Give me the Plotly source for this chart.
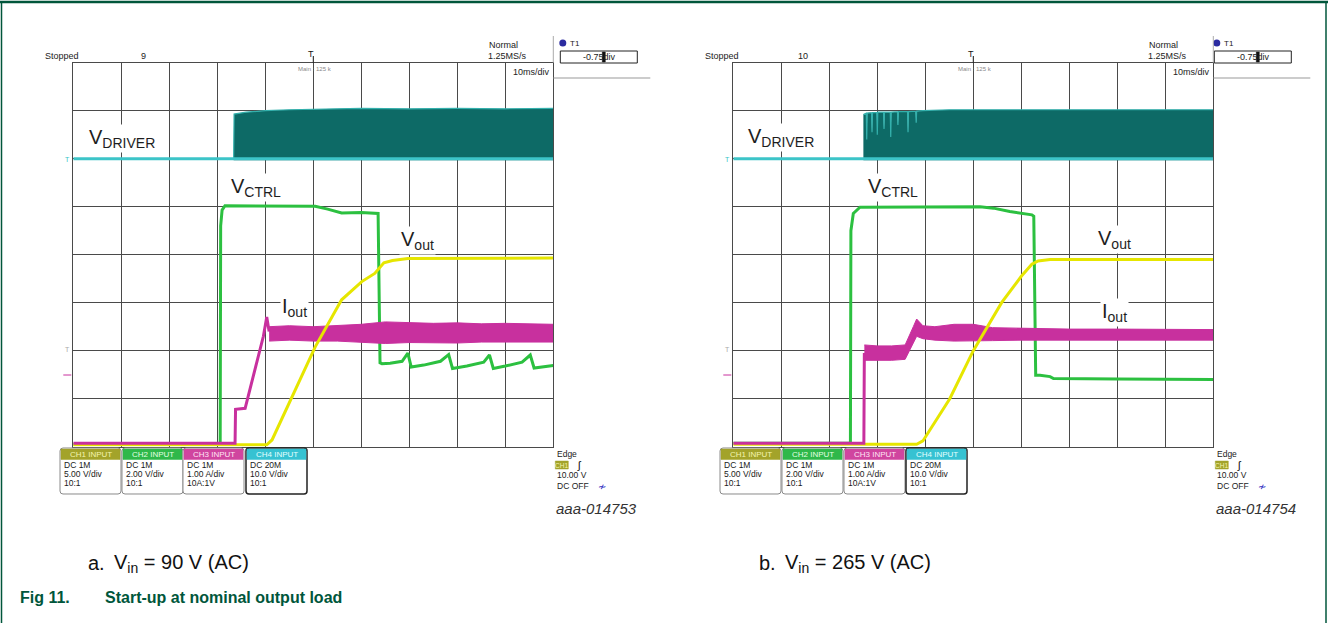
import plotly.graph_objects as go

W, H = 1328, 623

# ---------------- data: time in ms (10 ms/div), level in divisions (0..8) ----------------
# Panel a : Vin = 90 V (AC)
a_drv_base_t = [0, 100]
a_drv_base_y = [6.0, 6.0]
a_drv_t   = [33.4, 33.5, 36, 40, 45, 50, 60, 70, 80, 90, 100]
a_drv_top = [6.0, 6.93, 6.97, 7.00, 7.02, 7.03, 7.05, 7.04, 7.05, 7.04, 7.05]
a_drv_bot = [5.97, 5.97, 5.97, 5.97, 5.97, 5.97, 5.97, 5.97, 5.97, 5.97, 5.97]

a_ctrl_t = [0, 30.6, 30.7, 31.0, 31.6, 40, 50.4, 53, 55.9, 60,
            63.5, 63.9, 64.3, 66, 68.5, 69.7, 70.4, 73, 76.5, 78.2,
            79.0, 82, 85.5, 86.7, 87.5, 90, 93.5, 95.2, 96.0, 100]
a_ctrl_y = [0.05, 0.05, 4.6, 4.93, 5.02, 5.02, 5.01, 4.95, 4.87, 4.88,
            4.86, 1.75, 1.73, 1.74, 1.78, 1.95, 1.66, 1.70, 1.78, 1.92,
            1.63, 1.68, 1.76, 1.91, 1.63, 1.68, 1.76, 1.91, 1.64, 1.69]

a_iout_t = [0, 33.7, 33.8, 35.8, 39.6, 40.3, 40.8]
a_iout_y = [0.07, 0.07, 0.78, 0.80, 2.30, 2.70, 2.40]
a_band_t   = [40.8, 45, 50, 55, 60, 65, 70, 75, 80, 85, 90, 95, 100]
a_band_top = [2.50, 2.52, 2.50, 2.53, 2.55, 2.60, 2.58, 2.57, 2.58, 2.56, 2.57, 2.56, 2.55]
a_band_bot = [2.20, 2.22, 2.20, 2.20, 2.18, 2.15, 2.17, 2.17, 2.16, 2.18, 2.17, 2.18, 2.18]

a_vout_t = [0, 40.3, 41.4, 45.3, 50.4, 55.9, 60.1, 62.8, 64.7, 66.5, 69.7, 100]
a_vout_y = [0.04, 0.04, 0.14, 0.99, 2.08, 3.06, 3.44, 3.61, 3.83, 3.88, 3.92, 3.93]

# Panel b : Vin = 265 V (AC)
b_drv_base_t = [0, 100]
b_drv_base_y = [6.0, 6.0]
b_drv_t   = [27.1, 27.7, 27.8, 27.9, 28.8, 28.9, 29.0, 29.9, 30.0, 30.1,
             31.3, 31.4, 31.5, 32.7, 32.8, 32.9, 34.2, 34.3, 34.4, 36.3,
             36.4, 36.5, 38.0, 38.1, 38.2, 39.5, 45, 60, 80, 100]
b_drv_top = [6.92, 6.95, 6.40, 6.95, 6.96, 6.55, 6.96, 6.96, 6.50, 6.97,
             6.97, 6.62, 6.97, 6.97, 6.45, 6.97, 6.98, 6.70, 6.98, 6.98,
             6.55, 6.98, 6.99, 6.75, 6.99, 7.00, 7.02, 7.02, 7.03, 7.02]
b_drv_bot = [5.97, 5.97, 5.97, 5.97, 5.97, 5.97, 5.97, 5.97, 5.97, 5.97,
             5.97, 5.97, 5.97, 5.97, 5.97, 5.97, 5.97, 5.97, 5.97, 5.97,
             5.97, 5.97, 5.97, 5.97, 5.97, 5.97, 5.97, 5.97, 5.97, 5.97]

b_ctrl_t = [0, 24.4, 24.5, 25.0, 26.4, 40, 51.4, 54.2, 57.6, 62.2, 62.6, 63.0, 63.9, 66.0, 66.7, 80, 100]
b_ctrl_y = [0.07, 0.07, 4.5, 4.86, 4.99, 5.0, 5.0, 4.97, 4.90, 4.83, 4.80, 1.49, 1.49, 1.46, 1.42, 1.41, 1.40]

b_iout_t = [0, 27.2, 27.3]
b_iout_y = [0.07, 0.07, 1.95]
b_band_t   = [27.3, 30, 33, 35.8, 37.5, 38.2, 39.5, 42, 46, 50, 54, 60, 70, 80, 90, 100]
b_band_top = [2.12, 2.10, 2.10, 2.12, 2.50, 2.66, 2.52, 2.50, 2.55, 2.55, 2.48, 2.47, 2.45, 2.45, 2.45, 2.44]
b_band_bot = [1.80, 1.80, 1.80, 1.82, 2.15, 2.30, 2.25, 2.22, 2.20, 2.20, 2.21, 2.22, 2.22, 2.23, 2.22, 2.22]

b_vout_t = [0, 38.2, 39.5, 41.0, 45.1, 50.0, 55.9, 60.0, 62.2, 63.5, 66.0, 100]
b_vout_y = [0.05, 0.05, 0.12, 0.35, 1.0, 2.0, 3.0, 3.55, 3.80, 3.87, 3.90, 3.90]

# text content
channel_headers = ["CH1 INPUT", "CH2 INPUT", "CH3 INPUT", "CH4 INPUT"]
channel_lines = [["DC 1M", "5.00 V/div", "10:1"],
                 ["DC 1M", "2.00 V/div", "10:1"],
                 ["DC 1M", "1.00 A/div", "10A:1V"],
                 ["DC 20M", "10.0 V/div", "10:1"]]
acq_counts = ["9", "10"]
fig_ids = ["aaa-014753", "aaa-014754"]
sub_captions = [("a.", "V<sub>in</sub> = 90 V (AC)"), ("b.", "V<sub>in</sub> = 265 V (AC)")]
fig_caption = ("Fig 11.", "Start-up at nominal output load")

# ---------------- styles ----------------
C_CYAN = "#3cc4c8"
C_TEAL = "#0d6a66"
C_TEAL_EDGE = "#33b0ac"
C_GREEN = "#2cc040"
C_MAG = "#c8309e"
C_YEL = "#e6e600"
C_GRID = "#4a4a4a"
C_FIGGREEN = "#00563b"
HDR_COL = ["#a3a32a", "#2fb84a", "#d0459f", "#36c2d2"]
HDR_TXT = ["#f4f4b0", "#e4ffe4", "#ffe4f4", "#e4ffff"]
SMALL = "Liberation Sans Narrow, Liberation Sans, Arial"
BODY = "Liberation Sans, Arial"

Y_TOP, Y_BOT = 62.7, 446.7
PANELS = [dict(x0=73.3, x1=553.3, xa="x", ya="y"),
          dict(x0=733.3, x1=1213.3, xa="x2", ya="y2")]


def px(x):
    return x / W


def py(y):
    return 1 - y / H


fig = go.Figure()


def add_panel(p, drv_base_t, drv_base_y, drv_t, drv_top, drv_bot, ctrl_t, ctrl_y,
              iout_t, iout_y, band_t, band_top, band_bot, vout_t, vout_y):
    ax = dict(xaxis=p["xa"], yaxis=p["ya"], hoverinfo="skip", showlegend=False)
    # driver burst band
    fig.add_trace(go.Scatter(x=drv_t + drv_t[::-1], y=drv_top + drv_bot[::-1], mode="lines",
                             fill="toself", fillcolor=C_TEAL, line=dict(width=0), **ax))
    fig.add_trace(go.Scatter(x=drv_t, y=drv_top, mode="lines",
                             line=dict(color=C_TEAL_EDGE, width=1.2), **ax))
    fig.add_trace(go.Scatter(x=drv_base_t, y=drv_base_y, mode="lines",
                             line=dict(color=C_CYAN, width=3), **ax))
    # V_CTRL
    fig.add_trace(go.Scatter(x=ctrl_t, y=ctrl_y, mode="lines",
                             line=dict(color=C_GREEN, width=3), **ax))
    # Iout band
    fig.add_trace(go.Scatter(x=band_t + band_t[::-1], y=band_top + band_bot[::-1], mode="lines",
                             fill="toself", fillcolor=C_MAG, line=dict(color=C_MAG, width=1), **ax))
    # Vout
    fig.add_trace(go.Scatter(x=vout_t, y=vout_y, mode="lines",
                             line=dict(color=C_YEL, width=3), **ax))
    # Iout start
    fig.add_trace(go.Scatter(x=iout_t, y=iout_y, mode="lines",
                             line=dict(color=C_MAG, width=3), **ax))


add_panel(PANELS[0], a_drv_base_t, a_drv_base_y, a_drv_t, a_drv_top, a_drv_bot, a_ctrl_t, a_ctrl_y,
          a_iout_t, a_iout_y, a_band_t, a_band_top, a_band_bot, a_vout_t, a_vout_y)
add_panel(PANELS[1], b_drv_base_t, b_drv_base_y, b_drv_t, b_drv_top, b_drv_bot, b_ctrl_t, b_ctrl_y,
          b_iout_t, b_iout_y, b_band_t, b_band_top, b_band_bot, b_vout_t, b_vout_y)

xax = dict(range=[0, 100], dtick=10, tick0=0, showgrid=True, gridcolor=C_GRID, gridwidth=1,
           showticklabels=False, zeroline=False, showline=True, linecolor=C_GRID, linewidth=1,
           mirror=True, ticks="", fixedrange=True)
yax = dict(range=[0, 8], dtick=1, tick0=0, showgrid=True, gridcolor=C_GRID, gridwidth=1,
           showticklabels=False, zeroline=False, showline=True, linecolor=C_GRID, linewidth=1,
           mirror=True, ticks="", fixedrange=True)

fig.update_layout(
    width=W, height=H, margin=dict(l=0, r=0, t=0, b=0),
    paper_bgcolor="white", plot_bgcolor="white", showlegend=False,
    xaxis=dict(domain=[px(PANELS[0]["x0"]), px(PANELS[0]["x1"])], anchor="y", **xax),
    yaxis=dict(domain=[py(Y_BOT), py(Y_TOP)], anchor="x", **yax),
    xaxis2=dict(domain=[px(PANELS[1]["x0"]), px(PANELS[1]["x1"])], anchor="y2", **xax),
    yaxis2=dict(domain=[py(Y_BOT), py(Y_TOP)], anchor="x2", **yax),
)

ann = []
shapes = []


def text(x, y, s, size=9, color="#222", family=SMALL, xanchor="left", yanchor="middle", **kw):
    ann.append(dict(x=px(x), y=py(y), xref="paper", yref="paper", text=s, showarrow=False,
                    xanchor=xanchor, yanchor=yanchor,
                    font=dict(size=size, color=color, family=family), **kw))


def rect(x0, y0, x1, y1, fill=None, line="#888", lw=1):
    shapes.append(dict(type="rect", xref="paper", yref="paper", x0=px(x0), x1=px(x1),
                       y0=py(y1), y1=py(y0), fillcolor=fill, line=dict(color=line, width=lw),
                       layer="above"))


def rrect(x0, y0, x1, y1, r, fill=None, line="#888", lw=1):
    pts = lambda x, y: f"{px(x):.6f},{py(y):.6f}"
    d = (f"M {pts(x0 + r, y0)} L {pts(x1 - r, y0)} Q {pts(x1, y0)} {pts(x1, y0 + r)} "
         f"L {pts(x1, y1 - r)} Q {pts(x1, y1)} {pts(x1 - r, y1)} L {pts(x0 + r, y1)} "
         f"Q {pts(x0, y1)} {pts(x0, y1 - r)} L {pts(x0, y0 + r)} Q {pts(x0, y0)} {pts(x0 + r, y0)} Z")
    shapes.append(dict(type="path", xref="paper", yref="paper", path=d, fillcolor=fill,
                       line=dict(color=line, width=lw), layer="above"))


def line(x0, y0, x1, y1, color="#999", w=1):
    shapes.append(dict(type="line", xref="paper", yref="paper", x0=px(x0), x1=px(x1),
                       y0=py(y0), y1=py(y1), line=dict(color=color, width=w), layer="above"))


labels = [
    [(10.1, 6.43, "V<sub>DRIVER</sub>"), (38.1, 5.39, "V<sub>CTRL</sub>"),
     (71.8, 4.30, "V<sub>out</sub>"), (46.0, 2.89, "I<sub>out</sub>")],
    [(9.9, 6.45, "V<sub>DRIVER</sub>"), (33.2, 5.39, "V<sub>CTRL</sub>"),
     (79.5, 4.32, "V<sub>out</sub>"), (79.5, 2.80, "I<sub>out</sub>")],
]

box_x = [[60, 122, 183, 246], [720, 782, 844, 906]]
sub_x = [(86, 112), (757, 783)]

for i, p in enumerate(PANELS):
    x0, x1 = p["x0"], p["x1"]
    # waveform labels
    for (tx, ty, s) in labels[i]:
        ann.append(dict(x=tx, y=ty, xref=p["xa"], yref=p["ya"], text=s, showarrow=False,
                        bgcolor="white", borderpad=1,
                        font=dict(size=20, color="#1e1e1e", family=BODY)))
    # header
    text(x0 - 30, 56, "Stopped", size=9)
    text(x0 + 70, 56, acq_counts[i], size=9, xanchor="center")
    cx = (x0 + x1) / 2
    text(cx - 2.5, 54, "T", size=9, xanchor="center", color="#111")
    line(cx, 56, cx, Y_TOP, color="#111", w=1)
    text(cx + 2, 69, "Main : 125 k", size=6, xanchor="center", color="#888")
    text(x1 - 66, 45, "Normal", size=9)
    text(x1 - 67, 56, "1.25MS/s", size=9)
    text(x1 - 1, 72, "10ms/div", size=9, xanchor="right")
    # T1 cursor readout
    tb = x1 + 7 if i == 0 else x1 + 1
    shapes.append(dict(type="circle", xref="paper", yref="paper", x0=px(tb - 1), x1=px(tb + 6),
                       y0=py(46.5), y1=py(39.5), fillcolor="#2b2ba0", line=dict(width=0)))
    text(tb + 8, 43, "T1", size=8)
    rect(tb, 51, tb + 77, 63, fill="white", line="#222", lw=1)
    text(tb + 39, 57, "-0.75div", size=9, xanchor="center")
    rect(tb + 42, 52, tb + 45, 62, fill="#111", line="#111", lw=0.5)
    line(x1, 36, x1, Y_TOP, color="#aaa")
    line(x1, 78, x1 + 97, 78, color="#999")
    # left markers
    line(x0 - 10, 375, x0 - 2, 375, color=C_MAG, w=1)
    text(x0 - 6, 349, "T", size=7, color="#aaa", xanchor="center")
    text(x0 - 6, 159, "T", size=7, color=C_CYAN, xanchor="center")
    # channel boxes
    for k in range(4):
        bx = box_x[i][k]
        rrect(bx, 448, bx + 61, 494, 3, fill="white",
              line="#222" if k == 3 else "#8a8a8a", lw=1.5 if k == 3 else 1)
        rect(bx + 1, 449, bx + 60, 459.5, fill=HDR_COL[k], line=HDR_COL[k], lw=0.5)
        text(bx + 30.5, 454.5, channel_headers[k], size=8, color=HDR_TXT[k], xanchor="center")
        for j, s in enumerate(channel_lines[k]):
            text(bx + 2, 465 + 9 * j, s, size=8.5, color="#1a1a1a")
    # trigger info
    ex = x1 + 2
    text(ex, 454, "Edge", size=8.5)
    rect(ex, 461, ex + 13, 469, fill=HDR_COL[0], line=HDR_COL[0], lw=0.5)
    text(ex + 6.5, 465, "CH1", size=6.5, color="#f4f4b0", xanchor="center")
    text(ex + 24, 465, "ʃ", size=11, color="#111", xanchor="center")
    text(ex, 475, "10.00 V", size=8.5)
    text(ex, 486, "DC OFF", size=8.5)
    text(ex + 47, 486, "≁", size=10, color="#2b2bc0", xanchor="center")
    text(ex - 1, 508, "<i>" + fig_ids[i] + "</i>", size=15, color="#333", family=BODY)
    # sub-caption
    text(sub_x[i][0], 563, sub_captions[i][0], size=20, color="#111", family=BODY)
    text(sub_x[i][1], 563, sub_captions[i][1], size=20, color="#111", family=BODY)

# figure caption
text(18, 597, "<b>" + fig_caption[0] + "</b>", size=16, color=C_FIGGREEN, family=BODY)
text(103, 597, "<b>" + fig_caption[1] + "</b>", size=16, color=C_FIGGREEN, family=BODY)

# outer frame
line(0, 2, W, 2, color=C_FIGGREEN, w=2.5)
line(1.5, 2, 1.5, H, color=C_FIGGREEN, w=1.5)
line(W - 2, 2, W - 2, H, color=C_FIGGREEN, w=1.5)

fig.update_layout(annotations=ann, shapes=shapes)
fig.write_html("out.html", post_script="document.body.style.margin='0px';",
               config={"displayModeBar": False})
